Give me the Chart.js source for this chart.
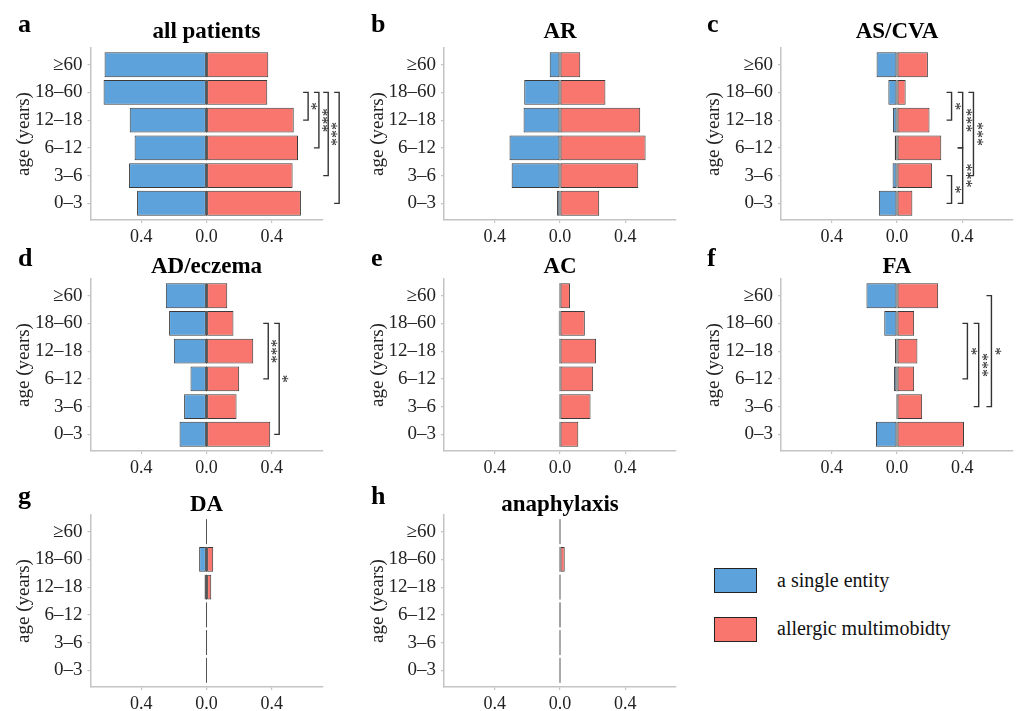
<!DOCTYPE html>
<html>
<head>
<meta charset="utf-8">
<script src="https://cdn.jsdelivr.net/npm/chart.js@4.4.1/dist/chart.umd.min.js"></script>
<style>
html, body { margin: 0; padding: 0; background: #fff; }
body { width: 1016px; height: 711px; position: relative; overflow: hidden; font-family: "Liberation Serif", "DejaVu Serif", serif; }
canvas { position: absolute; }
.legend-box { position: absolute; width: 41px; height: 23px; border: 1.5px solid #222; }
.legend-text { position: absolute; font-size: 20px; color: #111; line-height: 24px; white-space: nowrap; }
</style>
</head>
<body>

<div class="legend-box" style="left:714px;top:568px;background:#5da2da"></div>
<div class="legend-text" style="left:777px;top:568px">a single entity</div>
<div class="legend-box" style="left:714px;top:617px;background:#f8766d"></div>
<div class="legend-text" style="left:777px;top:616px">allergic multimobidty</div>

<script>
// ==========================================
// DATA
// ==========================================

const ageGroups = ["≥60", "18–60", "12–18", "6–12", "3–6", "0–3"];
const xTicks = [-0.4, 0, 0.4];

// share of patients per age group (single entity drawn to the left)
const singleAll = [0.624, 0.630, 0.470, 0.440, 0.474, 0.425];
const multiAll  = [0.378, 0.372, 0.534, 0.560, 0.527, 0.578];

const singleAR = [0.063, 0.219, 0.223, 0.309, 0.296, 0.018];
const multiAR  = [0.124, 0.278, 0.491, 0.524, 0.479, 0.240];

const singleAS = [0.125, 0.053, 0.025, 0.014, 0.027, 0.111];
const multiAS  = [0.189, 0.053, 0.199, 0.271, 0.215, 0.094];

const singleAD = [0.249, 0.229, 0.200, 0.098, 0.137, 0.165];
const multiAD  = [0.127, 0.165, 0.286, 0.200, 0.184, 0.390];

const singleAC = [0, 0.008, 0.002, 0, 0, 0];
const multiAC  = [0.061, 0.152, 0.221, 0.203, 0.187, 0.112];

const singleFA = [0.187, 0.078, 0.012, 0.018, 0.004, 0.129];
const multiFA  = [0.252, 0.105, 0.125, 0.105, 0.154, 0.410];

const singleDA = [0, 0.045, 0.012, 0.002, 0.002, 0];
const multiDA  = [0, 0.041, 0.029, 0.002, 0.003, 0];

const singleAna = [0, 0, 0, 0.002, 0, 0];
const multiAna  = [0, 0.029, 0, 0.002, 0, 0];

// significance brackets: [from, to, label, value position]
const sigAll = [["18–60", "12–18", "*", 0.622], ["18–60", "6–12", "***", 0.688], ["18–60", "3–6", "***", 0.745], ["18–60", "0–3", "*", 0.812]];
const sigAS  = [["18–60", "12–18", "*", 0.334], ["3–6", "0–3", "*", 0.334], ["18–60", "6–12", "***", 0.402], ["6–12", "0–3", "***", 0.402], ["18–60", "3–6", "***", 0.468]];
const sigAD  = [["18–60", "6–12", "***", 0.378], ["18–60", "0–3", "*", 0.445]];
const sigFA  = [["18–60", "6–12", "*", 0.431], ["18–60", "3–6", "***", 0.50], ["≥60", "3–6", "*", 0.578]];

const panelLetters = ["a", "b", "c", "d", "e", "f", "g", "h"];
const panelTitles = ["all patients", "AR", "AS/CVA", "AD/eczema", "AC", "FA", "DA", "anaphylaxis"];
const panelSingle = [singleAll, singleAR, singleAS, singleAD, singleAC, singleFA, singleDA, singleAna];
const panelMulti = [multiAll, multiAR, multiAS, multiAD, multiAC, multiFA, multiDA, multiAna];
const panelSig = [sigAll, [], sigAS, sigAD, [], sigFA, [], []];

// ==========================================
// LAYOUT / STYLE
// ==========================================

const SERIF = "'Liberation Serif', 'DejaVu Serif', serif";
const BLUE = "#5da2da";
const RED = "#f8766d";
const EDGE = "#3a3a3a";
const AXIS = "#c4c4c4";

const colLeft = [0, 340, 680];
const colWidth = [340, 340, 336];
const plotLeft = [90.5, 104, 101];
const plotWidth = 232;
const rowTop = [0, 231, 467];
const titleBase = [38, 42, 44];
const letterBase = [32, 35, 37];
const letterX = [18, 31, 27];
const yTitlePad = [14, 28, 24];

// ==========================================
// PLUGINS
// ==========================================

const zeroLine = {
    id: "zeroLine",
    beforeDatasetsDraw(chart) {
        const ctx = chart.ctx;
        const x0 = chart.scales.x.getPixelForValue(0);
        ctx.save();
        ctx.strokeStyle = "#555";
        ctx.lineWidth = 1;
        chart.getDatasetMeta(0).data.forEach(bar => {
            ctx.beginPath();
            ctx.moveTo(x0, bar.y - bar.height / 2);
            ctx.lineTo(x0, bar.y + bar.height / 2);
            ctx.stroke();
        });
        ctx.restore();
    }
};

function bracketPlugin(sig) {
    return {
        id: "brackets",
        afterDraw(chart) {
            const ctx = chart.ctx;
            const xs = chart.scales.x;
            const ys = chart.scales.y;
            ctx.save();
            ctx.strokeStyle = "#333";
            ctx.lineWidth = 1.4;
            ctx.fillStyle = "#222";
            ctx.font = "16px " + SERIF;
            sig.forEach(s => {
                const x = xs.getPixelForValue(s[3]);
                const y1 = ys.getPixelForValue(ageGroups.indexOf(s[0]));
                const y2 = ys.getPixelForValue(ageGroups.indexOf(s[1]));
                ctx.beginPath();
                ctx.moveTo(x - 5, y1);
                ctx.lineTo(x, y1);
                ctx.lineTo(x, y2);
                ctx.lineTo(x - 5, y2);
                ctx.stroke();
                ctx.save();
                ctx.translate(x + 2, (y1 + y2) / 2);
                ctx.rotate(-Math.PI / 2);
                ctx.textAlign = "center";
                ctx.textBaseline = "top";
                ctx.fillText(s[2], 0, 0);
                ctx.restore();
            });
            ctx.restore();
        }
    };
}

function labelPlugin(letter, title, row, col) {
    return {
        id: "panelLabels",
        afterDraw(chart) {
            const ctx = chart.ctx;
            const area = chart.chartArea;
            ctx.save();
            ctx.fillStyle = "#000";
            ctx.textBaseline = "alphabetic";
            ctx.font = "bold 26px " + SERIF;
            ctx.textAlign = "left";
            ctx.fillText(letter, letterX[col], letterBase[row]);
            ctx.font = "bold 23px " + SERIF;
            ctx.textAlign = "center";
            ctx.fillText(title, (area.left + area.right) / 2, titleBase[row]);
            ctx.restore();
        }
    };
}

// ==========================================
// PANELS
// ==========================================

panelTitles.forEach((title, p) => {

    const row = Math.floor(p / 3);
    const col = p % 3;

    const canvas = document.createElement("canvas");
    canvas.width = colWidth[col];
    canvas.height = 250;
    canvas.style.left = colLeft[col] + "px";
    canvas.style.top = rowTop[row] + "px";
    document.body.appendChild(canvas);

    const axisGrid = {
        display: true,
        drawOnChartArea: false,
        drawTicks: true,
        tickLength: 3,
        color: AXIS,
        lineWidth: 1.2,
        offset: false
    };

    new Chart(canvas, {

        type: "bar",

        data: {
            datasets: [
                {
                    label: "a single entity",
                    data: panelSingle[p].map((v, i) => ({ x: -v, y: i })),
                    backgroundColor: BLUE,
                    borderColor: EDGE,
                    borderWidth: 1,
                    borderSkipped: false,
                    barPercentage: 0.9,
                    categoryPercentage: 1
                },
                {
                    label: "allergic multimobidty",
                    data: panelMulti[p].map((v, i) => ({ x: v, y: i })),
                    backgroundColor: RED,
                    borderColor: EDGE,
                    borderWidth: 1,
                    borderSkipped: false,
                    barPercentage: 0.9,
                    categoryPercentage: 1
                }
            ]
        },

        options: {
            indexAxis: "y",
            responsive: false,
            animation: false,
            layout: {
                padding: { left: 0, top: 48, right: colWidth[col] - plotLeft[col] - plotWidth, bottom: 0 }
            },
            plugins: {
                legend: { display: false },
                tooltip: { enabled: false }
            },
            scales: {
                x: {
                    type: "linear",
                    min: -0.71,
                    max: 0.71,
                    stacked: true,
                    afterBuildTicks: s => { s.ticks = xTicks.map(v => ({ value: v })); },
                    afterFit: s => { s.height = 30; },
                    ticks: {
                        callback: v => Math.abs(v).toFixed(1),
                        font: { family: SERIF, size: 18 },
                        color: "#222",
                        padding: 3,
                        maxRotation: 0,
                        autoSkip: false
                    },
                    grid: axisGrid,
                    border: { display: true, color: AXIS, width: 1.5 }
                },
                y: {
                    type: "linear",
                    min: -0.6,
                    max: 5.6,
                    reverse: true,
                    stacked: true,
                    offset: false,
                    afterBuildTicks: s => { s.ticks = ageGroups.map((g, i) => ({ value: i })); },
                    afterFit: s => { s.width = plotLeft[col]; },
                    ticks: {
                        callback: v => ageGroups[v],
                        font: { family: SERIF, size: 19 },
                        color: "#222",
                        padding: 5,
                        autoSkip: false
                    },
                    grid: axisGrid,
                    border: { display: true, color: AXIS, width: 1.5 },
                    title: {
                        display: true,
                        text: "age (years)",
                        font: { family: SERIF, size: 19 },
                        color: "#222",
                        padding: { top: yTitlePad[col] - 1, bottom: 0 }
                    }
                }
            }
        },

        plugins: [zeroLine, bracketPlugin(panelSig[p]), labelPlugin(panelLetters[p], title, row, col)]

    });

});
</script>
</body>
</html>
